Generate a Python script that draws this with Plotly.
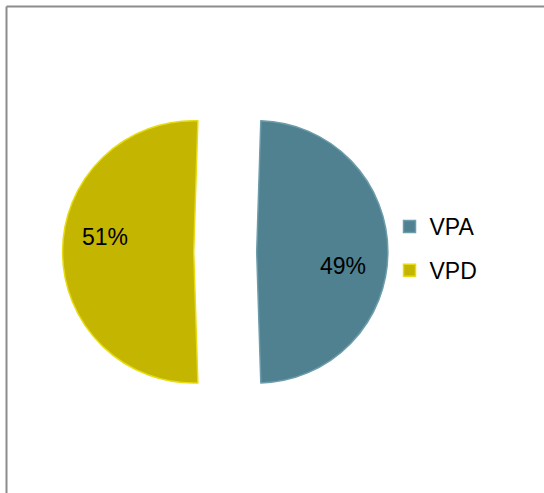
import plotly.graph_objects as go

labels = ["VPA", "VPD"]
values = [49, 51]
colors = ["#4f8190", "#c3b500"]
outline = ["#6d9caa", "#e6dc10"]
label_pos = [(343, 266), (105, 237)]  # pixel centers for percentage labels

W, H = 544, 493
FONT = "Liberation Sans, Arial, sans-serif"

fig = go.Figure()
fig.add_trace(go.Pie(
    labels=labels,
    values=values,
    sort=False,
    direction="clockwise",
    rotation=1.8,
    pull=[0.24, 0.24],
    marker=dict(colors=colors, line=dict(color=outline, width=1.5)),
    textinfo="none",
    hoverinfo="label+percent",
    showlegend=False,
    domain=dict(x=[0.115, 0.713], y=[0.159, 0.819]),
))

# legend entries (one per slice) with the slice colours
for lab, c, oc in zip(labels, colors, outline):
    fig.add_trace(go.Scatter(
        x=[None], y=[None], mode="markers", name=lab,
        legendgroup=lab,
        marker=dict(symbol="square", size=12, color=c, line=dict(color=oc, width=1.5)),
        hoverinfo="skip",
    ))

annotations = []
for v, (px, py) in zip(values, label_pos):
    annotations.append(dict(
        x=px / W, y=1 - py / H, xref="paper", yref="paper",
        text=f"{v}%", showarrow=False,
        font=dict(family=FONT, size=23, color="#000000"),
        xanchor="center", yanchor="middle",
    ))

fig.update_layout(
    width=W, height=H,
    margin=dict(l=0, r=0, t=0, b=0),
    paper_bgcolor="white",
    plot_bgcolor="rgba(0,0,0,0)",
    showlegend=True,
    xaxis=dict(visible=False),
    yaxis=dict(visible=False),
    legend=dict(
        x=0.716, y=0.496, xanchor="left", yanchor="middle",
        bgcolor="rgba(0,0,0,0)",
        font=dict(family=FONT, size=23, color="#000000"),
        tracegroupgap=11,
        traceorder="grouped",
        itemclick=False, itemdoubleclick=False,
    ),
    annotations=annotations,
    shapes=[
        dict(type="line", xref="paper", yref="paper",
             x0=6.5 / W, x1=1, y0=1 - 6.5 / H, y1=1 - 6.5 / H,
             line=dict(color="#8c8c8c", width=2)),
        dict(type="line", xref="paper", yref="paper",
             x0=6.5 / W, x1=6.5 / W, y0=0, y1=1 - 6.5 / H,
             line=dict(color="#8c8c8c", width=2)),
    ],
)

fig.write_html("out.html", config={"displayModeBar": False},
               post_script="document.body.style.margin='0';")
